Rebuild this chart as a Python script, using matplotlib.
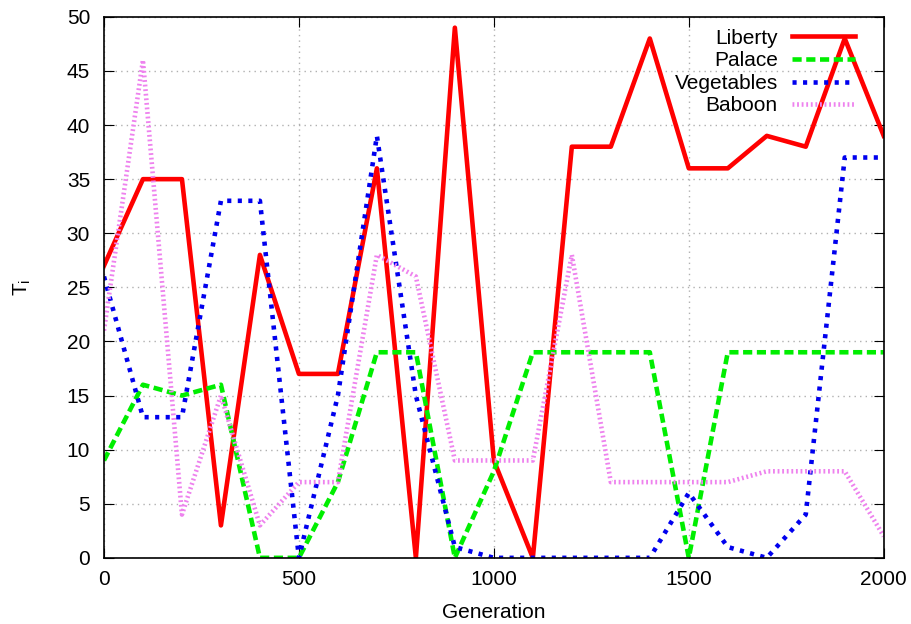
import matplotlib
matplotlib.use("Agg")
import matplotlib.pyplot as plt

# generations sampled every 100
generation = list(range(0, 2001, 100))

liberty = [27, 35, 35, 3, 28, 17, 17, 36, 0, 49, 9, 0, 38, 38, 48, 36, 36, 39, 38, 48, 39]
palace = [9, 16, 15, 16, 0, 0, 7, 19, 19, 0, 8, 19, 19, 19, 19, 0, 19, 19, 19, 19, 19]
vegetables = [26, 13, 13, 33, 33, 0, 15, 39, 15, 1, 0, 0, 0, 0, 0, 6, 1, 0, 4, 37, 37]
baboon = [21, 46, 4, 15, 3, 7, 7, 28, 26, 9, 9, 9, 28, 7, 7, 7, 7, 8, 8, 8, 2]

plt.rcParams['font.family'] = ['Liberation Sans', 'DejaVu Sans']

fig = plt.figure(figsize=(9.12, 6.24), dpi=100)
ax = fig.add_axes([0.114, 0.106, 0.855, 0.867])

ax.plot(generation, liberty, color='#ff0000', lw=3.3, label='Liberty')
ax.plot(generation, palace, color='#00ee00', lw=3.3, dashes=(2, 1), label='Palace')
ax.plot(generation, vegetables, color='#0000ee', lw=3.3, dashes=(0.9, 1.4), label='Vegetables')
ax.plot(generation, baboon, color='#ee82ee', lw=3.3, dashes=(0.4, 0.6), label='Baboon')

ax.set_xlim(0, 2000)
ax.set_ylim(0, 50)
ax.set_xticks(range(0, 2001, 500))
ax.set_yticks(range(0, 51, 5))
ax.grid(True, color='#b0b0b0', linestyle=(0, (1, 3)), lw=1)
ax.tick_params(direction='in', top=True, right=True, labelsize=15, length=7)
ax.tick_params(axis='y', pad=10)
ax.tick_params(axis='x', pad=9)
for s in ax.spines.values():
    s.set_linewidth(1.2)

ax.set_xlabel('Generation', fontsize=15, labelpad=10)
ax.set_ylabel(r'T$_\mathregular{i}$', fontsize=15, labelpad=24)

leg = ax.legend(loc='upper right', frameon=False, markerfirst=False, fontsize=15,
                handlelength=3.0, handletextpad=0.7, labelspacing=0.17,
                borderpad=0, borderaxespad=0, bbox_to_anchor=(0.963, 0.978))
for t in leg.get_texts():
    t.set_ha('right')

fig.savefig('out.png', dpi=100)
